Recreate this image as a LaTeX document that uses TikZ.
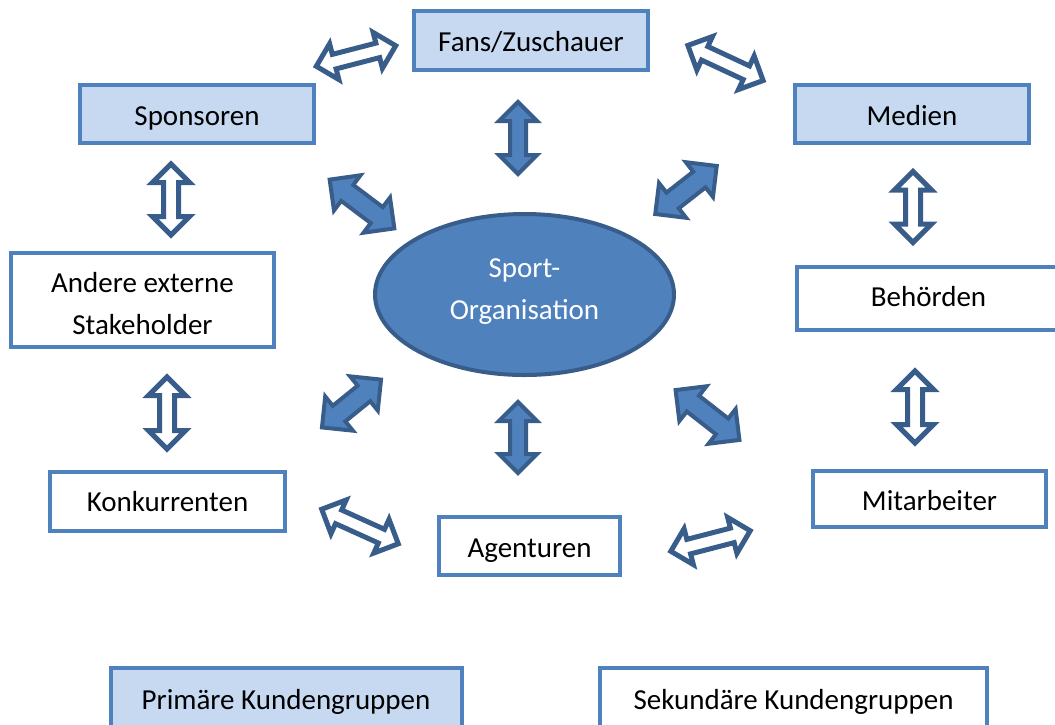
\documentclass[tikz,border=0pt]{standalone}
\usepackage{fontspec}
\usetikzlibrary{shapes.geometric}
\setmainfont{Carlito}
\definecolor{boxblue}{HTML}{4F81BD}
\definecolor{boxfill}{HTML}{C6D9F1}
\definecolor{darkblue}{HTML}{385D8A}
\newcommand\blockarrow[7]{% name, center, angle, length, style, head half width, shaft half width
  \coordinate (#1) at #2;
  \begin{scope}[shift={(#1)}, rotate=#3]
    \pgfmathsetmacro\arTip{#4/2-3}
    \pgfmathsetmacro\arBase{#4/2-3-#6}
    \draw[#5] (-\arTip,0) -- (-\arBase,#6) -- (-\arBase,#7) -- (\arBase,#7) -- (\arBase,#6) -- (\arTip,0)
      -- (\arBase,-#6) -- (\arBase,-#7) -- (-\arBase,-#7) -- (-\arBase,-#6) -- cycle;
  \end{scope}}
\newcommand\twolines[2]{\begin{tabular}{@{}c@{}}#1\\#2\end{tabular}}
\begin{document}
\begin{tikzpicture}[x=1pt,y=-1pt,
  every node/.style={font=\fontsize{29}{42}\selectfont, inner sep=0pt},
  txtpos/.style={text depth=5pt, text height=#1},
  stakebox/.style={draw=boxblue, line width=4pt, fill=white},
  primbox/.style={stakebox, fill=boxfill},
  hollowarr/.style={draw=darkblue, fill=white, line width=5pt, line join=miter},
  fullarr/.style={draw=darkblue, fill=boxblue, line width=4pt, line join=miter}]
\useasboundingbox (0,0) rectangle (1055,724);
\clip (0,0) rectangle (1055,724);
% boxes
\node[primbox, txtpos=26pt, minimum width=234pt, minimum height=59pt] (fans) at (531,40.5) {Fans/Zuschauer};
\node[primbox, txtpos=28pt, minimum width=234pt, minimum height=58pt] (sponsoren) at (197,114) {Sponsoren};
\node[primbox, txtpos=28pt, minimum width=234pt, minimum height=58pt] (medien) at (912,114) {Medien};
\node[stakebox, txtpos=28pt, minimum width=263pt, minimum height=94pt] (andere) at (142.5,300) {\twolines{Andere externe}{Stakeholder}};
\node[stakebox, txtpos=20pt, minimum width=263pt, minimum height=63pt] (behoerden) at (928.5,298.5) {Behörden};
\node[stakebox, txtpos=25pt, minimum width=235pt, minimum height=59pt] (konkurrenten) at (167.5,501.5) {Konkurrenten};
\node[stakebox, txtpos=27pt, minimum width=181pt, minimum height=58pt] (agenturen) at (529.5,546) {Agenturen};
\node[stakebox, txtpos=27pt, minimum width=233pt, minimum height=56pt] (mitarbeiter) at (929.5,499) {Mitarbeiter};
\node[primbox, txtpos=18pt, minimum width=351pt, minimum height=70pt] (primaer) at (286,703) {Primäre Kundengruppen};
\node[stakebox, txtpos=18pt, minimum width=387pt, minimum height=70pt] (sekundaer) at (793.5,703) {Sekundäre Kundengruppen};
% centre
\node[ellipse, draw=darkblue, fill=boxblue, line width=4pt, text=white, txtpos=8pt,
  minimum width=299pt, minimum height=161pt] (org) at (524.5,294.5) {\twolines{Sport-}{Organisation}};
% hollow arrows
\blockarrow{a1}{(356,56)}{14.5}{88}{hollowarr}{18.5}{7.5}
\blockarrow{a2}{(725.5,63)}{-25}{89}{hollowarr}{18.5}{7.5}
\blockarrow{a3}{(171,199.5)}{90}{77}{hollowarr}{18.5}{7.5}
\blockarrow{a4}{(167,413)}{90}{78}{hollowarr}{18.5}{7.5}
\blockarrow{a5}{(913,207)}{90}{77}{hollowarr}{18.5}{7.5}
\blockarrow{a6}{(915,407)}{90}{78}{hollowarr}{18.5}{7.5}
\blockarrow{a7}{(360,526.5)}{-24.3}{90}{hollowarr}{18.5}{7.5}
\blockarrow{a8}{(710.5,541)}{14.5}{88}{hollowarr}{18.5}{7.5}
% filled arrows
\blockarrow{b1}{(518,138)}{90}{78}{fullarr}{19}{8}
\blockarrow{b2}{(518,437.5)}{90}{77}{fullarr}{19}{8}
\blockarrow{b3}{(362,204)}{-37}{87}{fullarr}{22}{10}
\blockarrow{b4}{(686,190)}{38}{84}{fullarr}{22}{10}
\blockarrow{b5}{(351.5,403.5)}{39}{82}{fullarr}{22}{10}
\blockarrow{b6}{(707.5,415)}{-38}{87}{fullarr}{22}{10}
\end{tikzpicture}
\end{document}
